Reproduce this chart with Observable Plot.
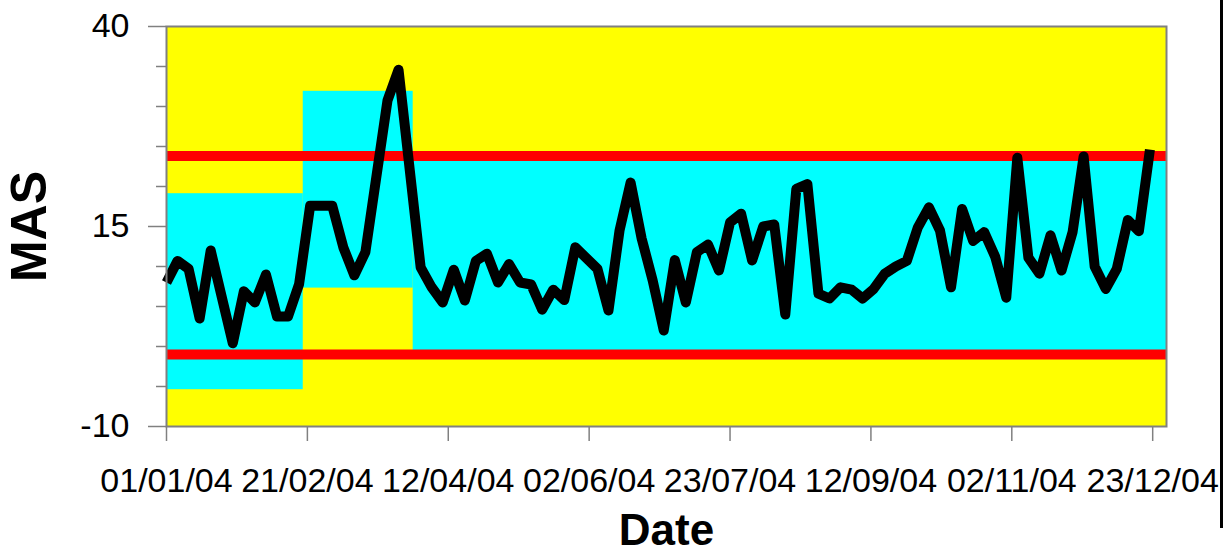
<!DOCTYPE html>
<html>
<head>
<meta charset="utf-8">
<script src="https://cdn.jsdelivr.net/npm/d3@7"></script>
<script src="https://cdn.jsdelivr.net/npm/@observablehq/plot@0.6"></script>
<style>
  html, body { margin: 0; padding: 0; background: #ffffff; }
  #wrap { position: relative; width: 1229px; height: 556px; overflow: hidden; }
  #edge { position: absolute; left: 1220px; top: 0; width: 3px; height: 528px; background: #000; }
</style>
</head>
<body>
<div id="wrap"><div id="edge"></div></div>
<script>
// ---- data (days since 01/01/2004, MAS value) ----
const startDate = "2004-01-01";
const sampleDays = [0, 4, 8, 12, 16, 24, 28, 32, 36, 40, 44, 48, 52, 60, 64, 68, 72, 80, 84, 92,
  96, 100, 104, 108, 112, 116, 120, 124, 128, 132, 136, 140, 144, 148, 156, 160, 164, 168, 172, 176,
  180, 184, 188, 192, 196, 200, 204, 208, 212, 216, 220, 224, 228, 232, 236, 240, 244, 248, 252, 256,
  260, 264, 268, 272, 276, 280, 284, 288, 292, 296, 300, 304, 308, 312, 316, 320, 324, 328, 332, 336,
  340, 344, 348, 352, 356];
const masValues = [8.0, 10.7, 9.7, 3.5, 12.0, 0.4, 6.9, 5.5, 9.0, 3.75, 3.75, 7.8, 17.6, 17.6, 12.4, 8.9, 11.8, 30.75, 34.6, 9.9,
  7.4, 5.5, 9.6, 5.75, 10.7, 11.6, 8.0, 10.3, 8.0, 7.75, 4.6, 7.1, 5.8, 12.4, 9.7, 4.5, 14.5, 20.5, 13.5, 8.25,
  2.0, 10.8, 5.5, 11.8, 12.75, 9.5, 15.5, 16.6, 10.75, 15.0, 15.25, 4.0, 19.7, 20.3, 6.6, 6.0, 7.4, 7.1, 6.0, 7.2,
  9.1, 10.0, 10.7, 14.9, 17.4, 14.5, 7.4, 17.2, 13.2, 14.3, 11.2, 6.1, 23.6, 11.1, 9.1, 13.9, 9.5, 14.3, 23.75, 10.0,
  7.2, 9.7, 15.8, 14.4, 24.6];

// phases (cyan bands)
const phaseStartDays = [0, 49.5, 89.3];
const phaseEndDays = [49.5, 89.3, 362];
const phaseLower = [-5.4, 7.3, -1.0];
const phaseUpper = [19.1, 31.9, 23.8];

// control limits (red lines)
const controlLimits = [23.8, -1.0];

// axes
const xDomainEndDay = 362;
const xTickDates = ["2004-01-01", "2004-02-21", "2004-04-12", "2004-06-02", "2004-07-23", "2004-09-12", "2004-11-02", "2004-12-23"];
const xTickLabels = ["01/01/04", "21/02/04", "12/04/04", "02/06/04", "23/07/04", "12/09/04", "02/11/04", "23/12/04"];
const yMajorTicks = [40, 15, -10];
const yMajorLabels = ["40", "15", "-10"];
const yMinorTicks = [35, 30, 25, 20, 10, 5, 0, -5];
const xTitle = "Date";
const yTitle = "MAS";

// ---- build ----
const t0 = new Date(startDate + "T00:00:00Z").getTime();
const dayToDate = (d) => new Date(t0 + d * 864e5);

const series = sampleDays.map((d, i) => ({date: dayToDate(d), mas: masValues[i]}));
const phases = phaseStartDays.map((d, i) => ({
  x1: dayToDate(d), x2: dayToDate(phaseEndDays[i]), y1: phaseLower[i], y2: phaseUpper[i]
}));
const xTicks = xTickDates.map((s) => new Date(s + "T00:00:00Z"));
const xLabelMap = new Map(xTicks.map((d, i) => [+d, xTickLabels[i]]));
const yLabelMap = new Map(yMajorTicks.map((v, i) => [v, yMajorLabels[i]]));

const font = "'Liberation Sans', Arial, sans-serif";

const chart = Plot.plot({
  width: 1229,
  height: 556,
  marginLeft: 166,
  marginRight: 63,
  marginTop: 26,
  marginBottom: 130,
  style: {fontFamily: font, background: "transparent", color: "#000", overflow: "visible"},
  x: {type: "utc", domain: [dayToDate(0), dayToDate(xDomainEndDay)]},
  y: {domain: [-10, 40]},
  marks: [
    Plot.frame({fill: "#ffff00", stroke: "none"}),
    Plot.rect(phases, {x1: "x1", x2: "x2", y1: "y1", y2: "y2", fill: "#00ffff"}),
    Plot.ruleY(controlLimits, {stroke: "#ff0000", strokeWidth: 10}),
    Plot.line(series, {x: "date", y: "mas", stroke: "#000", strokeWidth: 10,
      strokeLinejoin: "round", strokeLinecap: "butt"}),
    Plot.frame({stroke: "#808080", strokeWidth: 2}),
    Plot.axisY({ticks: yMinorTicks, tickSize: 10, stroke: "#808080", strokeWidth: 1.5,
      tickFormat: () => "", label: null}),
    Plot.axisY({ticks: yMajorTicks, tickSize: 18, tickPadding: 19, stroke: "#808080", strokeWidth: 1.5,
      fontSize: 34, fontFamily: font, tickFormat: (v) => yLabelMap.get(v), label: null}),
    Plot.axisX({ticks: xTicks, tickSize: 15, tickPadding: 26, stroke: "#808080", strokeWidth: 1.5,
      fontSize: 34, fontFamily: font, tickFormat: (d) => xLabelMap.get(+d), label: null}),
    Plot.text([xTitle], {text: (d) => d, frameAnchor: "bottom", dy: 104, lineAnchor: "middle",
      fontSize: 44, fontWeight: "bold", fontFamily: font, fill: "#000"}),
    Plot.text([yTitle], {text: (d) => d, frameAnchor: "left", dx: -137, rotate: -90, lineAnchor: "middle",
      textAnchor: "middle", fontSize: 50, fontWeight: "bold", fontFamily: font, fill: "#000"})
  ]
});
document.getElementById("wrap").appendChild(chart);
</script>
</body>
</html>
